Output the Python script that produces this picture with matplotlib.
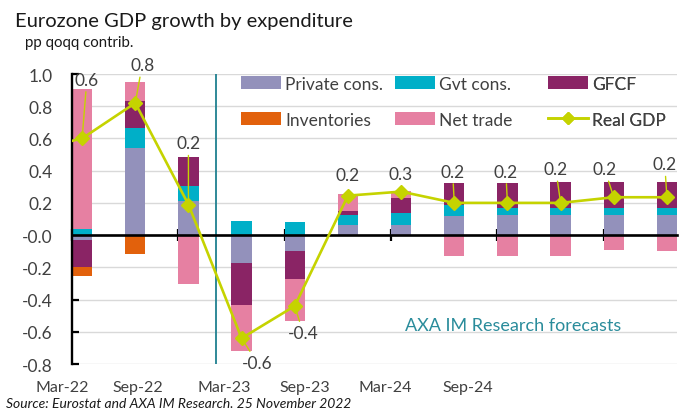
import numpy as np
import matplotlib
matplotlib.use("Agg")
import matplotlib.pyplot as plt
import matplotlib.transforms as mtransforms
from matplotlib.patches import Patch
from matplotlib.lines import Line2D

plt.rcParams['font.family'] = ['Lato', 'DejaVu Sans']

# ---------------- data ----------------
quarters = ["Q1-22", "Q2-22", "Q3-22", "Q4-22", "Q1-23", "Q2-23",
            "Q3-23", "Q4-23", "Q1-24", "Q2-24", "Q3-24", "Q4-24"]
private_cons = [-0.03, 0.54, 0.21, -0.17, -0.10, 0.062, 0.062, 0.116, 0.126, 0.126, 0.126, 0.126]
gvt_cons     = [0.04, 0.125, 0.095, 0.09, 0.083, 0.062, 0.075, 0.07, 0.04, 0.04, 0.04, 0.04]
gfcf         = [-0.165, 0.165, 0.18, -0.265, -0.17, 0.027, 0.091, 0.139, 0.16, 0.161, 0.161, 0.161]
inventories  = [-0.058, -0.12, 0, 0, 0, 0, 0, 0, 0, 0, 0, 0]
net_trade    = [0.87, 0.12, -0.305, -0.287, -0.26, 0.102, 0.047, -0.129, -0.13, -0.132, -0.091, -0.097]
# Real GDP, starting one quarter earlier (Q4-21) so the line enters from the left
gdp_quarters = ["Q4-21"] + quarters
real_gdp = [0.52, 0.60, 0.82, 0.19, -0.64, -0.44, 0.245, 0.27, 0.20, 0.20, 0.20, 0.235, 0.235]

xtick_labels = ["Mar-22", "Sep-22", "Mar-23", "Sep-23", "Mar-24", "Sep-24"]

series_names = ["Private cons.", "Gvt cons.", "GFCF", "Inventories", "Net trade"]
series_vals = [private_cons, gvt_cons, gfcf, inventories, net_trade]
colors = ["#9391BB", "#00AFC8", "#8A2465", "#E2610C", "#E680A2"]
gdp_color = "#C5D300"

# ---------------- layout ----------------
W, H = 686, 414
fig = plt.figure(figsize=(W / 100, H / 100), dpi=100)
ax = fig.add_axes([72 / W, 1 - 365 / H, (677 - 72) / W, (365 - 75) / H])

x = np.arange(len(quarters))
bw = 0.38
pos_bottom = np.zeros(len(x))
neg_bottom = np.zeros(len(x))
for name, vals, c in zip(series_names, series_vals, colors):
    v = np.array(vals, dtype=float)
    b = np.where(v >= 0, pos_bottom, neg_bottom)
    ax.bar(x, v, bw, bottom=b, color=c, edgecolor='none', zorder=2, label=name)
    pos_bottom += np.where(v >= 0, v, 0)
    neg_bottom += np.where(v < 0, v, 0)

gx = np.arange(-1, len(quarters))
ax.plot(gx, real_gdp, color=gdp_color, lw=1.9, marker='D', ms=7.5,
        zorder=4, label="Real GDP")

# data labels with leader lines
label_x = [0.09, 1.13, 2.0, 3.30, 4.16, 5.0, 6.0, 6.97, 7.97, 8.91, 9.83, 10.96]
label_y = [0.965, 1.056, 0.57, -0.795, -0.61, 0.373, 0.379, 0.394, 0.394, 0.41, 0.41, 0.44]
leader = [True, True, True, True, True, False, False, True, True, True, True, True]
for i in range(len(quarters)):
    val = real_gdp[i + 1]
    txt = f"{val:.1f}"
    ap = dict(arrowstyle='-', color=gdp_color, lw=1.0, shrinkA=1, shrinkB=0) if leader[i] else None
    ax.annotate(txt, xy=(x[i], val), xytext=(label_x[i], label_y[i]),
                ha='center', va='center', fontsize=12.5, color='#404040',
                arrowprops=ap, zorder=5, annotation_clip=False)

# axes styling
ax.set_xlim(-bw / 2, len(quarters) - 1 + bw / 2)
ax.set_ylim(-0.8, 1.0)
ax.set_yticks(np.arange(-0.8, 1.01, 0.2))
ax.set_yticklabels([f"{t:.1f}" for t in np.arange(-0.8, 1.01, 0.2)])
ax.yaxis.grid(True, color='#D9D9D9', lw=1.0, zorder=0)
ax.set_axisbelow(True)
ax.tick_params(axis='y', direction='in', length=5, width=1.6, pad=14,
               labelsize=12.5, labelcolor='#404040')
for s in ['top', 'right']:
    ax.spines[s].set_visible(False)
ax.spines['left'].set_linewidth(1.7)
ax.spines['left'].set_color('black')
ax.spines['bottom'].set_position(('data', 0))
ax.spines['bottom'].set_linewidth(1.9)
ax.spines['bottom'].set_color('black')
ax.spines['bottom'].set_zorder(3)
ax.set_xticks(np.arange(0, len(quarters), 2) - bw / 2)
ax.tick_params(axis='x', direction='inout', length=9, width=1.6, labelbottom=False)

# date labels below the plot area
label_pos = [-0.38, 1.04, 2.67, 4.19, 5.71, 7.26]
trans = mtransforms.blended_transform_factory(ax.transData, ax.transAxes)
for lp, lab in zip(label_pos, xtick_labels):
    ax.text(lp, -0.08, lab, transform=trans, ha='center', va='center',
            fontsize=11.5, color='#404040', clip_on=False)

# forecast separator
ax.axvline(2.52, color='#1F8090', lw=1.3, zorder=3)
ax.text(8.1, -0.557, "AXA IM Research forecasts", color='#2A8C9B',
        fontsize=13, ha='center', va='center')

# legend (3 columns, 2 rows)
handles = {name: Patch(facecolor=c, edgecolor='none') for name, c in zip(series_names, colors)}
handles["Real GDP"] = Line2D([0], [0], color=gdp_color, lw=1.9, marker='D', ms=6)
cols = [["Private cons.", "Inventories"], ["Gvt cons.", "Net trade"], ["GFCF", "Real GDP"]]
col_x = [0.279, 0.534, 0.787]
for names, cx in zip(cols, col_x):
    leg = ax.legend([handles[n] for n in names], names, loc='center left',
                    bbox_to_anchor=(cx, 0.905), frameon=False, fontsize=12.5,
                    handlelength=2.3, handleheight=0.8, handletextpad=0.25,
                    labelspacing=1.15, borderpad=0, borderaxespad=0,
                    labelcolor='#404040')
    ax.add_artist(leg)

# titles and source
fig.text(15 / W, 1 - 22 / H, "Eurozone GDP growth by expenditure", fontsize=14.5,
         color='#1a1a1a', ha='left', va='center')
fig.text(25 / W, 1 - 43 / H, "pp qoqq contrib.", fontsize=10.8, color='#1a1a1a',
         ha='left', va='center')
fig.text(6 / W, 1 - 404 / H, "Source: Eurostat and AXA IM Research. 25 November 2022",
         fontsize=10, style='italic', color='#1a1a1a', ha='left', va='center')

fig.savefig("out.png", dpi=100)
